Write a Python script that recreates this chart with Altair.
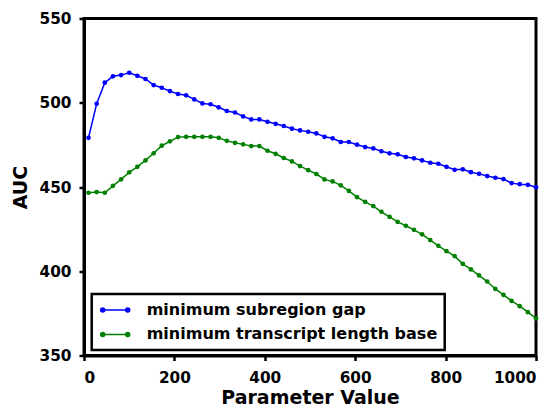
import altair as alt
import pandas as pd

# ---- data ----
series_names = ["minimum subregion gap", "minimum transcript length base"]
series_colors = ["#0000ff", "#008000"]

param_values = [10, 28, 46, 64, 82, 100, 118, 136, 154, 172, 190, 208, 226, 244,
                262, 280, 298, 316, 334, 352, 370, 388, 406, 424, 442, 460, 478,
                496, 514, 532, 550, 568, 586, 604, 622, 640, 658, 676, 694, 712,
                730, 748, 766, 784, 802, 820, 838, 856, 874, 892, 910, 928, 946,
                964, 982, 1000]

auc_subregion_gap = [479.2, 499.4, 511.9, 515.7, 516.4, 517.8, 516.0, 514.1, 510.5, 508.9,
                     506.9, 505.2, 504.4, 502.0, 499.6, 499.1, 497.3, 495.1, 494.2, 491.9,
                     490.1, 490.1, 488.7, 487.5, 486.2, 484.6, 483.6, 482.8, 481.8, 479.8,
                     478.9, 476.7, 476.7, 475.1, 473.7, 472.9, 471.2, 470.0, 469.4, 467.8,
                     467.0, 465.8, 464.4, 463.8, 462.0, 460.2, 460.5, 458.8, 457.8, 456.5,
                     455.5, 454.7, 452.3, 451.7, 451.3, 449.9]

auc_transcript_length = [446.6, 447.0, 446.6, 450.7, 454.5, 458.7, 462.0, 465.8, 470.0, 474.5,
                         477.1, 479.6, 479.8, 479.8, 479.8, 479.8, 479.2, 477.4, 476.2, 475.3,
                         474.3, 474.3, 471.5, 469.7, 467.2, 465.2, 462.4, 460.0, 457.7, 454.5,
                         453.3, 451.0, 447.7, 444.0, 441.2, 438.7, 435.3, 432.3, 429.3, 427.0,
                         424.6, 421.9, 418.5, 415.1, 411.9, 409.0, 404.4, 401.1, 397.5, 393.9,
                         389.5, 386.0, 382.4, 379.3, 375.7, 372.0]

x_ticks = [0, 200, 400, 600, 800, 1000]
y_ticks = [350, 400, 450, 500, 550]

rows = []
for name, vals in zip(series_names, [auc_subregion_gap, auc_transcript_length]):
    for xv, yv in zip(param_values, vals):
        rows.append({"param": xv, "auc": yv, "series": name})
df = pd.DataFrame(rows)

FONT = "DejaVu Sans"

# legend symbol: a short line with a dot at each end (unit coords, 8px per unit)
sym = ("M-0.625,0L2.5,0 "
       "M-0.875,0A0.25,0.25 0 1,0 -0.375,0A0.25,0.25 0 1,0 -0.875,0Z "
       "M2.25,0A0.25,0.25 0 1,0 2.75,0A0.25,0.25 0 1,0 2.25,0Z")

xenc = alt.X("param:Q", scale=alt.Scale(domain=[0, 1000], nice=False),
             axis=alt.Axis(values=x_ticks, title="Parameter Value", format="d",
                           titleY=48, titleBaseline="alphabetic"))
yenc = alt.Y("auc:Q", scale=alt.Scale(domain=[350, 550], nice=False, zero=False),
             axis=alt.Axis(values=y_ticks, title="AUC", format="d",
                           titleX=-57.3, titleBaseline="alphabetic"))

cscale = alt.Scale(domain=series_names, range=series_colors)

lines = alt.Chart(df).mark_line(strokeWidth=1.5).encode(
    x=xenc, y=yenc,
    stroke=alt.Stroke("series:N", scale=cscale, sort=series_names, legend=alt.Legend(title=None)),
    order="param:Q",
)
points = alt.Chart(df).mark_point(filled=True, size=22, opacity=1).encode(
    x=xenc, y=yenc,
    fill=alt.Fill("series:N", scale=cscale, sort=series_names, legend=alt.Legend(title=None)),
)

chart = alt.layer(lines, points).properties(
    width=452, height=337,
    autosize=alt.AutoSizeParams(type="none"),
    padding={"left": 76, "top": 10.5, "right": 14, "bottom": 52.5},
).configure_view(
    stroke="black", strokeWidth=3
).configure_axis(
    grid=False,
    domainColor="black", domainWidth=3,
    tickColor="black", tickWidth=2.5, tickSize=5,
    labelFont=FONT, labelFontSize=15.3, labelFontWeight="bold", labelColor="black",
    titleFont=FONT, titleFontSize=19, titleFontWeight="bold", titleColor="black",
).configure_axisX(
    labelPadding=10,
).configure_axisY(
    labelPadding=8,
).configure_legend(
    orient="none", legendX=7.7, legendY=275.5,
    symbolType=sym, symbolSize=256, symbolStrokeWidth=1.5,
    labelFont=FONT, labelFontSize=16, labelFontWeight="bold", labelColor="black",
    labelOffset=30, labelLimit=500,
    padding=7, rowPadding=7.4,
    strokeColor="black", strokeWidth=2.5, fillColor="white", cornerRadius=0,
)

chart.save("out.html", embed_options={"renderer": "svg", "actions": False})
